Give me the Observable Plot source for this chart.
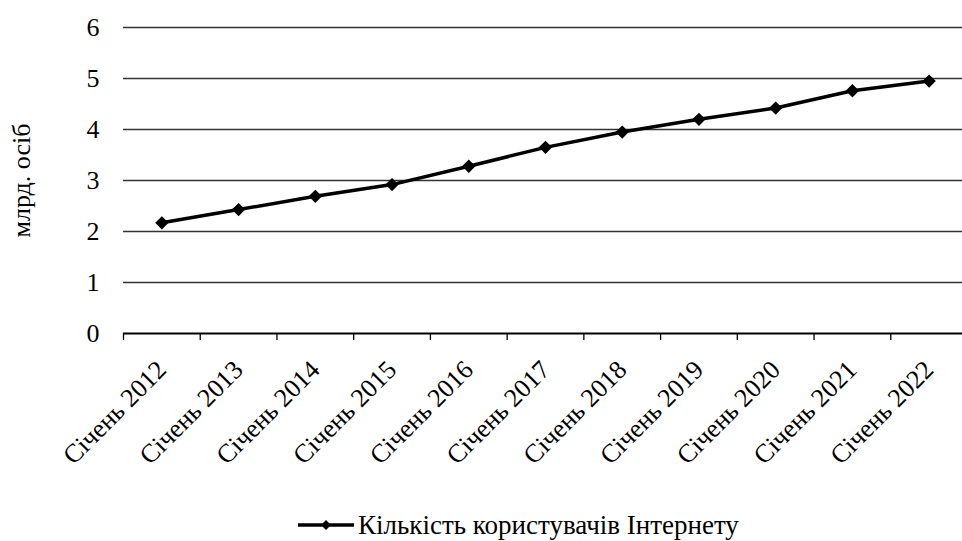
<!DOCTYPE html>
<html><head><meta charset="utf-8">
<script src="https://cdn.jsdelivr.net/npm/d3@7"></script>
<script src="https://cdn.jsdelivr.net/npm/@observablehq/plot@0.6"></script>
<style>
body{margin:0;background:#fff;width:962px;height:541px;overflow:hidden;position:relative;font-family:'Liberation Serif','Times New Roman',serif;color:#000;}
#legend{position:absolute;left:298px;top:508px;height:34px;display:flex;align-items:center;font-size:27px;font-family:'Liberation Serif','Times New Roman',serif;white-space:nowrap;}
#legend svg{margin-right:4px;}
</style></head><body>
<div id="chart"></div>
<div id="legend"></div>
<script>
const categories = ["Січень 2012","Січень 2013","Січень 2014","Січень 2015","Січень 2016","Січень 2017","Січень 2018","Січень 2019","Січень 2020","Січень 2021","Січень 2022"];
const users = [2.17, 2.43, 2.69, 2.92, 3.28, 3.65, 3.95, 4.20, 4.42, 4.76, 4.95];
const yTicks = [0, 1, 2, 3, 4, 5, 6];
const seriesName = "Кількість користувачів Інтернету";
const yLabel = "млрд. осіб";

const data = categories.map((c, i) => ({pos: i + 0.5, value: users[i], cat: c}));
const boundaries = d3.range(categories.length + 1);
const FONT = "'Liberation Serif', 'Times New Roman', serif";

const chart = Plot.plot({
  width: 962,
  height: 495,
  marginLeft: 123,
  marginRight: 0,
  marginTop: 27,
  marginBottom: 162,
  style: {fontFamily: FONT, fontSize: "26px", color: "#000", background: "#fff"},
  x: {domain: [0, categories.length], range: [123, 967]},
  y: {domain: [0, 6]},
  marks: [
    Plot.ruleY(yTicks.filter(d => d > 0), {stroke: "#333", strokeWidth: 1.3}),
    Plot.ruleY([0], {stroke: "#000", strokeWidth: 2}),
    Plot.axisX(boundaries, {tickSize: 7, tickFormat: () => "", stroke: "#000", strokeWidth: 1.3, label: null}),
    Plot.axisX(data.map(d => d.pos), {tickSize: 0, tickRotate: -45, tickPadding: 32, tickFormat: d => categories[Math.floor(d)], fontSize: 26, fontFamily: FONT, label: null}),
    Plot.axisY(yTicks, {tickSize: 0, tickPadding: 24, fontSize: 26, fontFamily: FONT, tickFormat: d => String(d), label: yLabel, labelAnchor: "center", labelArrow: "none", labelOffset: 112}),
    Plot.line(data, {x: "pos", y: "value", stroke: "#000", strokeWidth: 3.5}),
    Plot.dot(data, {x: "pos", y: "value", symbol: "diamond2", r: 6, fill: "#000", stroke: "none"})
  ]
});
document.getElementById("chart").appendChild(chart);

const leg = document.getElementById("legend");
leg.innerHTML = `<svg width="56" height="20"><line x1="0" y1="10" x2="56" y2="10" stroke="#000" stroke-width="3.5"/><path d="M28,5L33,10L28,15L23,10Z" fill="#000"/></svg><span>${seriesName}</span>`;
</script>
</body></html>
